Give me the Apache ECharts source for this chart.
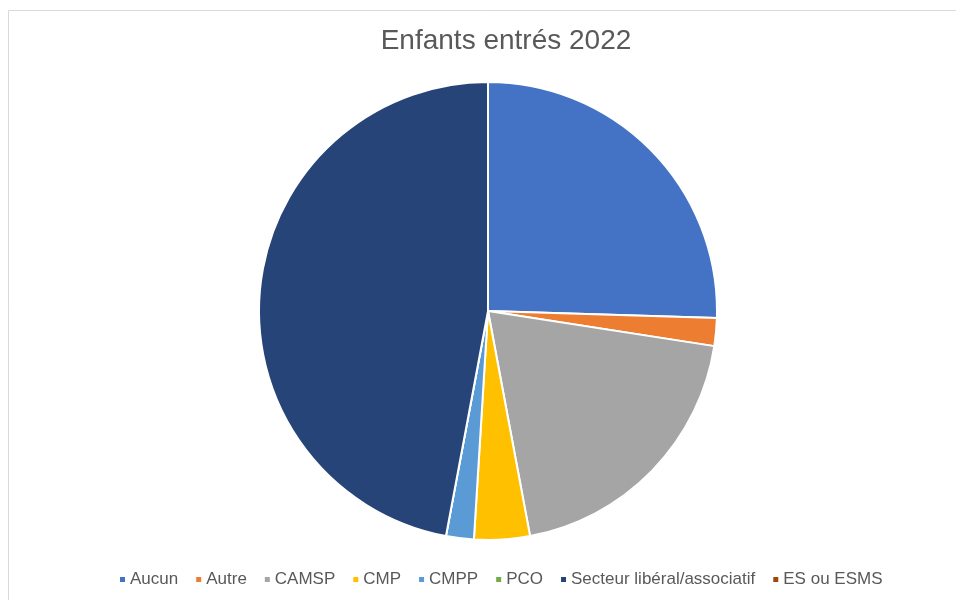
<!DOCTYPE html>
<html><head><meta charset="utf-8">
<script src="https://cdn.jsdelivr.net/npm/echarts@6/dist/echarts.min.js"></script>
<style>html,body{margin:0;padding:0;background:#fff}#c{width:956px;height:600px}</style>
</head><body><div id="c"></div>
<script>
const title = 'Enfants entrés 2022';
const categories = ['Aucun','Autre','CAMSP','CMP','CMPP','PCO','Secteur libéral/associatif','ES ou ESMS'];
const values = [13,1,10,2,1,0,24,0];
const colors = ['#4472c4','#ed7d31','#a5a5a5','#ffc000','#5b9bd5','#70ad47','#264478','#9e480e'];

const chart = echarts.init(document.getElementById('c'));
chart.setOption({
  backgroundColor:'#fff',
  animation:false,
  title:{text:title,left:501,top:22,textAlign:'center',textStyle:{fontFamily:'Liberation Sans, Arial',fontSize:28,fontWeight:'normal',color:'#595959'}},
  legend:{
    top:566,left:113,icon:'rect',itemWidth:7,itemHeight:7,itemGap:16,
    textStyle:{fontFamily:'Liberation Sans, Arial',fontSize:17,color:'#595959',padding:[0,0,0,-1]},
    data:categories
  },
  graphic:[{type:'rect',shape:{x:8.5,y:10.5,width:1000,height:700},style:{fill:'none',stroke:'#d9d9d9',lineWidth:1},silent:true}],
  series:[{
    type:'pie',center:[488,311],radius:229,startAngle:90,clockwise:true,
    minAngle:0,stillShowZeroSum:true,
    label:{show:false},labelLine:{show:false},
    itemStyle:{borderColor:'#fff',borderWidth:2},
    data:categories.map((c,i)=>({name:c,value:values[i],itemStyle:{color:colors[i]}}))
  }]
});
</script></body></html>
